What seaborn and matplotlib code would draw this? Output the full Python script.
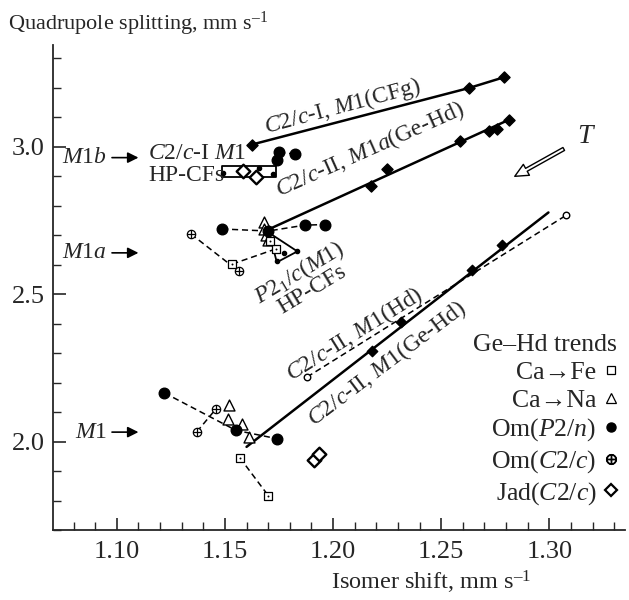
import numpy as np
import pandas as pd
import matplotlib
matplotlib.use("Agg")
import matplotlib.pyplot as plt
import seaborn as sns
from matplotlib.ticker import MultipleLocator, FormatStrFormatter
from matplotlib.lines import Line2D

sns.set_theme(style="ticks")
plt.rcParams['font.family'] = ['Liberation Serif', 'DejaVu Serif']
plt.rcParams['mathtext.fontset'] = 'custom'
plt.rcParams['mathtext.rm'] = 'Liberation Serif'
plt.rcParams['mathtext.it'] = 'Liberation Serif:italic'
plt.rcParams['mathtext.bf'] = 'Liberation Serif:bold'

FS = 17

# ---------------- data ----------------
# C2/c-I, M1 (CFg) trend
cfg_x = [1.1623, 1.2628, 1.2792]
cfg_y = [3.007, 3.199, 3.236]
# C2/c-II, M1a (Ge-Hd) trend line ends and points
m1a_line_x = [1.1700, 1.2815]
m1a_line_y = [2.719, 3.092]
m1a_x = [1.2177, 1.2249, 1.2585, 1.2720, 1.2757, 1.2815]
m1a_y = [2.868, 2.924, 3.018, 3.054, 3.061, 3.092]
# C2/c-II, M1 (Ge-Hd) trend
m1_line_x = [1.1600, 1.2996]
m1_line_y = [1.982, 2.777]
m1_x = [1.2182, 1.2316, 1.2643, 1.2782]
m1_y = [2.306, 2.404, 2.581, 2.668]
# C2/c-II, M1 (Hd) dashed trend
hd_x = [1.1880, 1.3077]
hd_y = [2.219, 2.767]

# Om(P2/n)
omp_b_x = [1.1751, 1.1823]; omp_b_y = [2.981, 2.975]
omp_b2_x = [1.1739]; omp_b2_y = [2.956]
omp_a_x = [1.1487, 1.1700, 1.1870, 1.1962]; omp_a_y = [2.721, 2.714, 2.734, 2.736]
omp_1_x = [1.1220, 1.1551, 1.1739]; omp_1_y = [2.165, 2.038, 2.010]
# Om(C2/c)
omc_a_x = [1.1343, 1.1565]; omc_a_y = [2.704, 2.577]
omc_1_x = [1.1370, 1.1459]; omc_1_y = [2.033, 2.111]
# Ca->Fe
cafe_a_x = [1.1534, 1.1734, 1.1708]; cafe_a_y = [2.602, 2.653, 2.679]
cafe_1_x = [1.1569, 1.1700]; cafe_1_y = [1.945, 1.817]
# Ca->Na
cana_a_x = [1.1680, 1.1680, 1.1690, 1.1700]; cana_a_y = [2.746, 2.722, 2.700, 2.682]
cana_1_x = [1.1519, 1.1515, 1.1577, 1.1612]; cana_1_y = [2.123, 2.078, 2.061, 2.016]
# Jad(C2/c)
jad_b_x = [1.1582, 1.1643]; jad_b_y = [2.916, 2.896]
jad_1_x = [1.1911, 1.1935]; jad_1_y = [1.937, 1.958]

# HP-CFs regions
rect_x = [1.1485, 1.1736, 1.1736, 1.1485, 1.1485]
rect_y = [2.897, 2.897, 2.9356, 2.9356, 2.897]
rect_dot_x = [1.1492, 1.1657, 1.1723]; rect_dot_y = [2.911, 2.928, 2.907]
tri_x = [1.1705, 1.1835, 1.1740, 1.1705]
tri_y = [2.7075, 2.645, 2.608, 2.7075]
tri_dot_x = [1.1772, 1.1740, 1.1831]; tri_dot_y = [2.640, 2.611, 2.645]

legend_title = 'Ge\u2013Hd trends'
legend_labels = ['Ca\u2192Fe', 'Ca\u2192Na', 'Om($P2/n$)', 'Om($C2/c$)', 'Jad($C2/c$)']

# ---------------- figure ----------------
fig = plt.figure(figsize=(6.29, 6.0), dpi=100)
ax = fig.add_axes([53/629, 70/600, 572/629, 485/600])

def line(x, y, ls='-', lw=1.6, **kw):
    sns.lineplot(x=x, y=y, sort=False, estimator=None, color='black',
                 linestyle=ls, linewidth=lw, ax=ax, legend=False, **kw)

def pts(x, y, marker, s, fc, lw=1.0, z=3):
    sns.scatterplot(x=x, y=y, marker=marker, s=s, facecolor=fc,
                    edgecolor='black', linewidth=lw, ax=ax, legend=False, zorder=z)

def oplus(x, y, s=36):
    pts(x, y, 'o', s, 'white', lw=0.9, z=4)
    sns.scatterplot(x=x, y=y, marker='+', s=s * 0.8, color='black',
                    linewidth=0.9, ax=ax, legend=False, zorder=5)

def dotsq(x, y, s=26):
    pts(x, y, 's', s, 'white', lw=0.9, z=4)
    sns.scatterplot(x=x, y=y, marker='o', s=2, color='black',
                    linewidth=0, ax=ax, legend=False, zorder=5)

# trend lines
line(cfg_x, cfg_y, lw=1.8)
line(m1a_line_x, m1a_line_y, lw=1.8)
line(m1_line_x, m1_line_y, lw=1.8)
dash = (0, (4, 2.5))
line(hd_x, hd_y, ls=dash, lw=1.1)
pts(cfg_x, cfg_y, 'D', 32, 'black')
pts(m1a_x, m1a_y, 'D', 32, 'black')
pts(m1_x, m1_y, 'D', 28, 'black')
pts(hd_x, hd_y, 'o', 22, 'white', lw=1.0)

# dashed series
for xx, yy in [(omp_b_x, omp_b_y), (omp_a_x, omp_a_y), (omp_1_x, omp_1_y),
               (omc_a_x, omc_a_y), (omc_1_x, omc_1_y),
               (cafe_a_x, cafe_a_y), (cafe_1_x, cafe_1_y)]:
    line(xx, yy, ls=dash, lw=1.1)

# HP-CFs regions
line(rect_x, rect_y, lw=1.3)
line(tri_x, tri_y, lw=1.3)
pts(rect_dot_x, rect_dot_y, 'o', 9, 'black')
pts(tri_dot_x, tri_dot_y, 'o', 9, 'black')

# markers
dotsq(cafe_a_x, cafe_a_y)
dotsq(cafe_1_x, cafe_1_y)
pts(cana_a_x, cana_a_y, '^', 62, 'white')
pts(cana_1_x, cana_1_y, '^', 62, 'white')
pts(omp_b_x + omp_b2_x, omp_b_y + omp_b2_y, 'o', 58, 'black')
pts(omp_a_x, omp_a_y, 'o', 58, 'black')
pts(omp_1_x, omp_1_y, 'o', 58, 'black')
oplus(omc_a_x, omc_a_y)
oplus(omc_1_x, omc_1_y)
pts(jad_b_x, jad_b_y, 'D', 48, 'white', lw=1.7, z=6)
pts(jad_1_x, jad_1_y, 'D', 48, 'white', lw=1.7, z=6)

# axes
ax.set_xlim(1.0705, 1.335)
ax.set_ylim(1.70, 3.345)
ax.xaxis.set_major_locator(MultipleLocator(0.05))
ax.xaxis.set_minor_locator(MultipleLocator(0.01))
ax.yaxis.set_major_locator(MultipleLocator(0.5))
ax.yaxis.set_minor_locator(MultipleLocator(0.1))
ax.xaxis.set_major_formatter(FormatStrFormatter('%.2f'))
ax.yaxis.set_major_formatter(FormatStrFormatter('%.1f'))
ax.tick_params(which='major', direction='in', length=9, width=1.2, labelsize=19)
ax.tick_params(axis='x', which='major', pad=8)
ax.tick_params(axis='y', which='major', pad=6)
ax.tick_params(which='minor', direction='in', length=6, width=1.0)
for side in ['top', 'right']:
    ax.spines[side].set_visible(False)
for side in ['left', 'bottom']:
    ax.spines[side].set_linewidth(1.3)
ax.set_xlabel('')
ax.set_ylabel('')

fig.text(8/629, 1 - 24/600, 'Quadrupole splitting, mm s$^{\u2013 1}$', fontsize=16,
         ha='left', va='center')
fig.text(531/629, 1 - 582/600, 'Isomer shift, mm s$^{\u2013 1}$', fontsize=17.5,
         ha='right', va='center')

# text annotations
def t(x, y, s, rot=0, ha='center', fs=FS):
    ax.text(x, y, s, rotation=rot, ha=ha, va='center', fontsize=fs,
            rotation_mode='anchor')

t(1.2045, 3.136, '$C2/c$-I, $M$1(CFg)', rot=15)
t(1.2171, 2.990, '$C2/c$-II, $M1a$(Ge-Hd)', rot=24)
t(1.2100, 2.363, '$C2/c$-II, $M$1(Hd)', rot=32)
t(1.2248, 2.264, '$C2/c$-II, $M$1(Ge-Hd)', rot=37)
t(1.1846, 2.573, '$P2_1/c$($M$1)', rot=31)
t(1.1902, 2.515, 'HP-CFs', rot=31)
t(1.1145, 2.977, '$C2/c$-I $M$1', ha='left')
t(1.1145, 2.902, 'HP-CFs', ha='left')
ax.text(1.317, 3.035, '$T$', fontsize=FS + 3, ha='center', va='center')

for lab, yv in [('$M1b$', 2.963), ('$M1a$', 2.640), ('$M$1', 2.032)]:
    ax.annotate('', xy=(1.1113, yv), xytext=(1.0965, yv),
                arrowprops=dict(arrowstyle='-|>', color='black', lw=1.2,
                                mutation_scale=16))
    ax.text(1.0955, yv, lab, fontsize=FS, ha='right', va='center')

ax.annotate('', xy=(1.2829, 2.895), xytext=(1.3078, 2.997),
            arrowprops=dict(arrowstyle='simple,head_length=0.8,head_width=0.75,tail_width=0.2',
                            facecolor='white', edgecolor='black', lw=1.0))

# legend
handles = [
    Line2D([], [], marker='s', ls='', mfc='white', mec='black', ms=5.5, mew=0.9),
    Line2D([], [], marker='^', ls='', mfc='white', mec='black', ms=7, mew=0.9),
    Line2D([], [], marker='o', ls='', mfc='black', mec='black', ms=6.5),
    Line2D([], [], marker='$\\oplus$', ls='', color='black', ms=7),
    Line2D([], [], marker='D', ls='', mfc='white', mec='black', ms=6.5, mew=1.6),
]
leg = ax.legend(handles, legend_labels, loc='upper right',
                bbox_to_anchor=(617/629, 1 - 334/600), bbox_transform=fig.transFigure,
                frameon=False, markerfirst=False, fontsize=18.5, handlelength=0.5,
                handletextpad=0.3, labelspacing=0.19, borderaxespad=0, borderpad=0,
                title=legend_title, title_fontsize=18.5, alignment='right')

fig.savefig('out.png', dpi=100)
